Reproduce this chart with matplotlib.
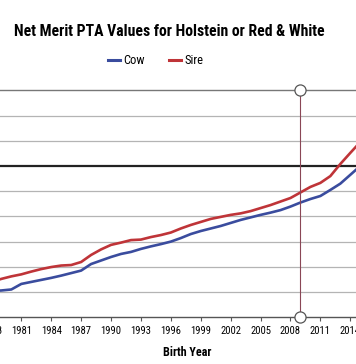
import matplotlib
matplotlib.use('Agg')
import matplotlib.pyplot as plt
from matplotlib.lines import Line2D

# data (Net Merit PTA, $)
years = list(range(1978, 2016))
cow = [-496, -494, -490, -468, -460, -452, -444, -435, -425, -415,
       -389, -375, -361, -349, -341, -329, -319, -310, -300, -286,
       -270, -258, -248, -238, -226, -214, -204, -194, -185, -175,
       -161, -145, -131, -119, -95, -70, -35, 0]
sire = [-460, -448, -438, -430, -419, -409, -401, -395, -393, -381,
        -353, -331, -313, -304, -294, -292, -282, -274, -264, -248,
        -234, -222, -210, -202, -194, -188, -179, -167, -155, -141,
        -127, -105, -83, -67, -40, 8, 52, 95]
tick_years = list(range(1978, 2018, 3))
marker_year = 2009

plt.rcParams['font.family'] = ['Roboto Condensed', 'Roboto', 'DejaVu Sans']

fig = plt.figure(figsize=(3.56, 3.64), dpi=100)
# plot area runs past the left/right edges like the cropped original
ax = fig.add_axes([-38.5 / 356, 0.1286, 418.7 / 356, 0.623])

ax.plot(years, cow, color='#3a4c9e', lw=1.9, label='Cow', zorder=3)
ax.plot(years, sire, color='#bf3438', lw=1.9, label='Sire', zorder=3)

for v in range(-500, 300, 100):
    if v == 0:
        ax.axhline(v, color='#222222', lw=1.6, zorder=1)
    else:
        ax.axhline(v, color='#b4b4b4', lw=0.9, zorder=1)

ax.plot([marker_year, marker_year], [-600, 300], color='#8a4656', lw=0.8,
        marker='o', ms=8, mfc='white', mec='#555555', mew=0.9,
        clip_on=False, zorder=4)

ax.set_xlim(1975, 2017)
ax.set_ylim(-600, 300)
ax.set_xticks(tick_years)
ax.set_yticks([])
ax.tick_params(axis='x', length=3, width=0.8, color='#555555',
               labelsize=8.5, pad=3)
for s in ['left', 'right']:
    ax.spines[s].set_visible(False)
ax.spines['top'].set_color('#777777')
ax.spines['top'].set_linewidth(1.0)
ax.spines['bottom'].set_color('#555555')
ax.spines['bottom'].set_linewidth(1.0)


def fit_text(t, target_px):
    # shrink/grow a text so its width matches the reference
    r = fig.canvas.get_renderer()
    w = t.get_window_extent(r).width
    t.set_fontsize(t.get_fontsize() * target_px / w)


title = fig.text(0.475, 0.913, 'Net Merit PTA Values for Holstein or Red & White',
                 ha='center', va='center', fontsize=11, fontweight='bold')
fit_text(title, 312)

handles = [Line2D([], [], color='#3a4c9e', lw=2.2),
           Line2D([], [], color='#bf3438', lw=2.2)]
fig.legend(handles, ['Cow', 'Sire'], loc='center', bbox_to_anchor=(0.437, 0.833),
           ncol=2, frameon=False, fontsize=9, handlelength=1.0,
           handletextpad=0.25, columnspacing=1.9)

xlab = fig.text(0.525, 0.031, 'Birth Year', ha='center', va='center',
                fontsize=9, fontweight='bold')
fit_text(xlab, 49)

fig.canvas.draw()
lab = ax.get_xticklabels()[1]
fit_w = lab.get_window_extent(fig.canvas.get_renderer()).width
ax.tick_params(axis='x', labelsize=8.5 * 20.6 / fit_w)

fig.savefig('out.png', dpi=100)
